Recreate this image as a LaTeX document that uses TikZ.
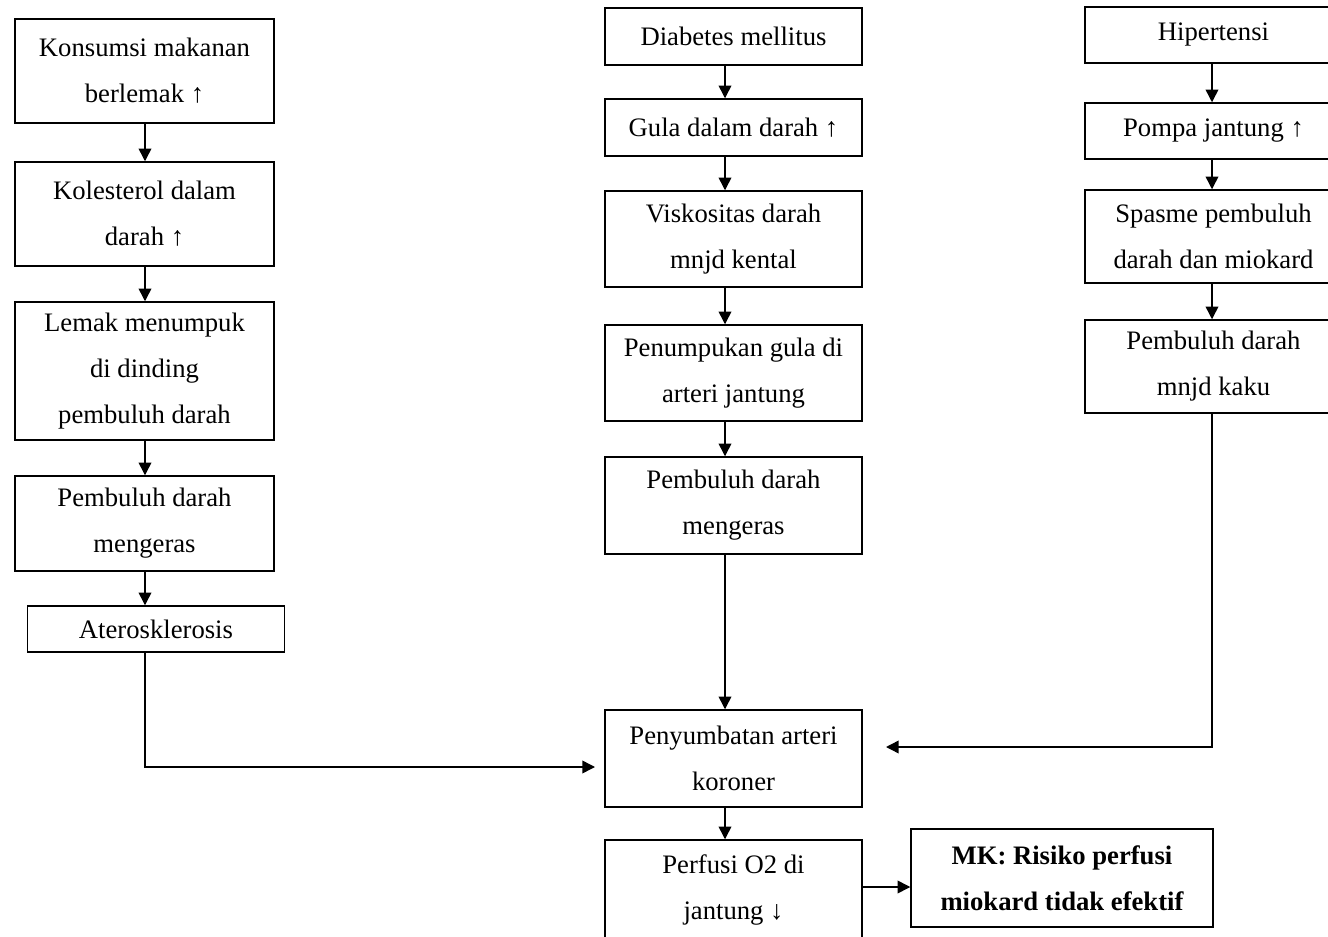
\documentclass[tikz,border=0pt]{standalone}
\usepackage{fontspec}
\setmainfont{Liberation Serif}
\usepackage{tikz}
\usetikzlibrary{arrows.meta, positioning}

\begin{document}
\begin{tikzpicture}[
    x=0.75pt, y=-0.75pt,
    every node/.append style = {font=\fontsize{20}{34.5}\selectfont},
    box/.style = {draw, line width=1.1pt, rectangle, align=center, inner sep=0pt,
      minimum width=192.75pt},
    arr/.style = {line width=1.1pt, -{Triangle[length=9.5pt, width=9.5pt]}}
  ]
  \useasboundingbox (0,0) rectangle (1328,937);

  % columns of the connectors
  \coordinate (lc) at (145,0);
  \coordinate (mc) at (725,0);
  \coordinate (rc) at (1212,0);

 \begin{scope}
  % left column
  \node[box, minimum width=194.25pt, minimum height=78pt] (kons) at (144.5,71)
    {Konsumsi makanan\\berlemak ↑};
  \node[box, minimum width=194.25pt, minimum height=78pt] (kol) at (144.5,214)
    {Kolesterol dalam\\darah ↑};
  \node[box, minimum width=194.25pt, minimum height=103.5pt] (lemak) at (144.5,371)
    {Lemak menumpuk\\di dinding\\pembuluh darah};
  \node[box, minimum width=194.25pt, minimum height=71.25pt] (keras1) at (144.5,523.5)
    {Pembuluh darah\\mengeras};
  \node[box, minimum width=193pt, minimum height=34.5pt] (ateros) at (156,629)
    {Aterosklerosis};

  % middle column
  \node[box, minimum height=42.75pt] (dm) at (733.5,36.5) {Diabetes mellitus};
  \node[box, minimum height=42.75pt] (gula) at (733.5,127.5) {Gula dalam darah ↑};
  \node[box, minimum height=72pt] (visko) at (733.5,239) {Viskositas darah\\mnjd kental};
  \node[box, minimum height=72pt] (tumpuk) at (733.5,373) {Penumpukan gula di\\arteri jantung};
  \node[box, minimum height=72.75pt] (keras2) at (733.5,505.5) {Pembuluh darah\\mengeras};
  \node[box, minimum height=72.75pt] (sumbat) at (733.5,758.5) {Penyumbatan arteri\\koroner};
  \node[box, minimum height=75pt] (perfusi) at (733.5,890) {Perfusi O2 di\\jantung ↓};
  \node[box, minimum width=226.5pt, minimum height=73.5pt, font=\fontsize{20}{34.5}\selectfont\bfseries]
    (mk) at (1062,878) {MK: Risiko perfusi\\miokard tidak efektif};

  % right column
  \node[box, minimum height=42pt] (hiper) at (1213.5,35) {Hipertensi};
  \node[box, minimum height=42pt] (pompa) at (1213.5,131) {Pompa jantung ↑};
  \node[box, minimum height=69.75pt] (spasme) at (1213.5,236.5) {Spasme pembuluh\\darah dan miokard};
  \node[box, minimum height=69.75pt] (kaku) at (1213.5,366.5) {Pembuluh darah\\mnjd kaku};

  % free ends of the side connectors
  \coordinate (lj) at (595,767);
  \coordinate (rj) at (886,747);
  \coordinate (mr) at (0,887);

  % left arrows
  \draw[arr] (kons.south -| lc) -- (kol.north -| lc);
  \draw[arr] (kol.south -| lc) -- (lemak.north -| lc);
  \draw[arr] (lemak.south -| lc) -- (keras1.north -| lc);
  \draw[arr] (keras1.south -| lc) -- (ateros.north -| lc);
  \draw[arr] (ateros.south -| lc) |- (lj);

  % middle arrows
  \draw[arr] (dm.south -| mc) -- (gula.north -| mc);
  \draw[arr] (gula.south -| mc) -- (visko.north -| mc);
  \draw[arr] (visko.south -| mc) -- (tumpuk.north -| mc);
  \draw[arr] (tumpuk.south -| mc) -- (keras2.north -| mc);
  \draw[arr] (keras2.south -| mc) -- (sumbat.north -| mc);
  \draw[arr] (sumbat.south -| mc) -- (perfusi.north -| mc);
  \draw[arr] (perfusi.east |- mr) -- (mk.west |- mr);

  % right arrows
  \draw[arr] (hiper.south -| rc) -- (pompa.north -| rc);
  \draw[arr] (pompa.south -| rc) -- (spasme.north -| rc);
  \draw[arr] (spasme.south -| rc) -- (kaku.north -| rc);
  \draw[arr] (kaku.south -| rc) |- (rj);
 \end{scope}
\end{tikzpicture}
\end{document}
